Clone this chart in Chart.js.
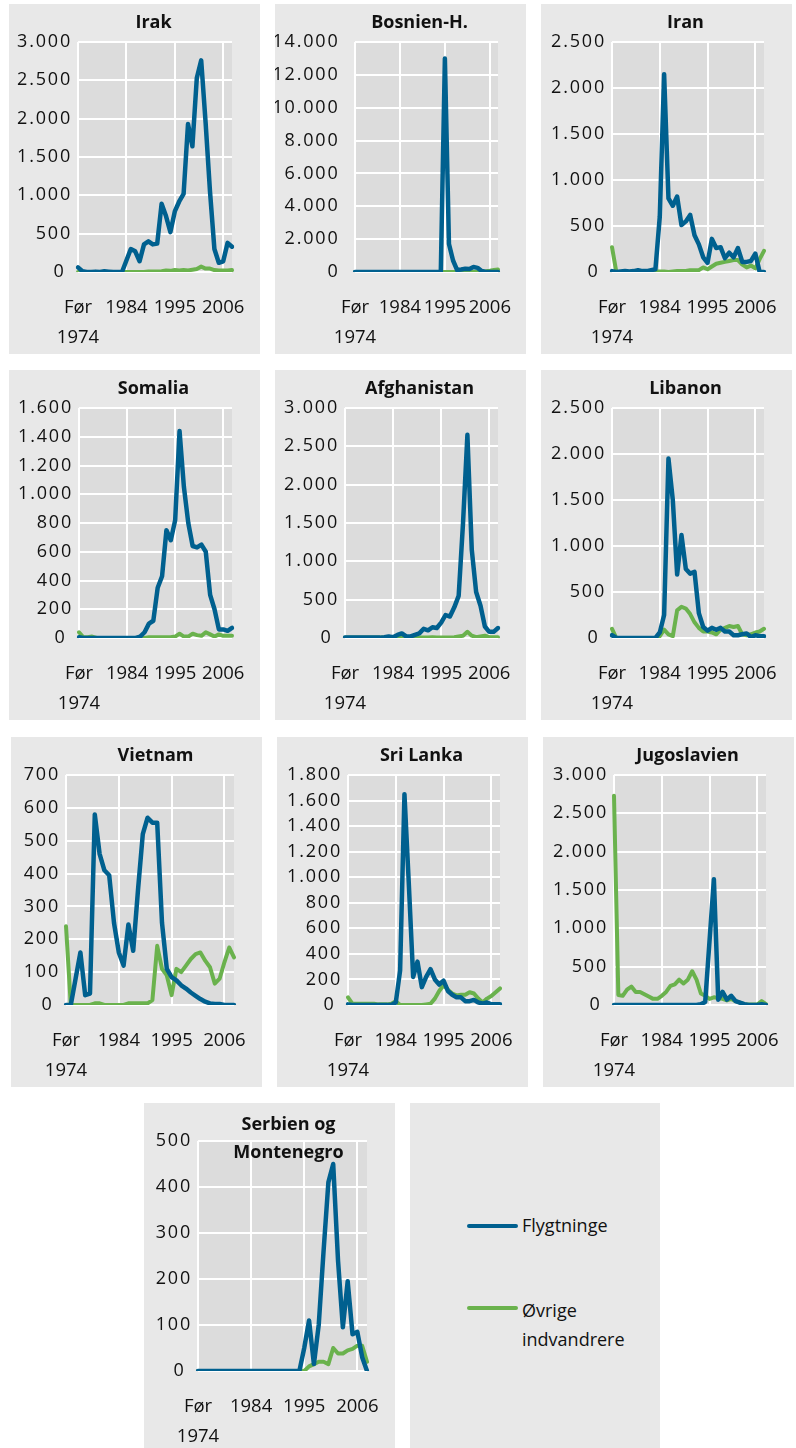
<!DOCTYPE html>
<html>
<head>
<meta charset="utf-8">
<script src="https://cdn.jsdelivr.net/npm/chart.js@4.4.1/dist/chart.umd.min.js"></script>
<style>
  body { margin: 0; background: #fff; width: 796px; height: 1448px; position: relative; overflow: hidden; }
  .panel { position: absolute; background: #e8e8e8; overflow: hidden; }
  .panel canvas { display: block; }
  .lgline { position: absolute; height: 4px; width: 51px; border-radius: 2px; }
  .lgtext { position: absolute; font-family: 'Open Sans'; font-size: 18px; line-height: 29px; color: #111; white-space: nowrap; }
</style>
</head>
<body>
<div class="panel" style="left:410px;top:1103px;width:250px;height:345px">
  <div class="lgline" style="left:57px;top:121px;background:#00608f"></div>
  <div class="lgtext" style="left:112px;top:108px">Flygtninge</div>
  <div class="lgline" style="left:57px;top:203px;background:#6ab24d"></div>
  <div class="lgtext" style="left:112px;top:193px">Øvrige<br>indvandrere</div>
</div>
<script>
// x categories: "Før 1974", then 1974-2008
var years = ['Før 1974','1974','1975','1976','1977','1978','1979','1980','1981','1982','1983','1984',
  '1985','1986','1987','1988','1989','1990','1991','1992','1993','1994','1995','1996','1997','1998',
  '1999','2000','2001','2002','2003','2004','2005','2006','2007','2008'];

var irakFly = [60,10,0,0,5,0,10,5,0,0,0,150,300,270,140,360,400,360,370,890,730,520,790,920,1020,1930,1640,2530,2760,1950,1050,300,120,140,380,330];
var irakOvr = [0,0,0,0,0,0,0,0,0,0,0,0,0,0,0,0,5,5,5,10,20,15,25,20,25,20,30,40,70,45,45,25,20,20,20,25];

var bosFly = [0,0,0,0,0,0,0,0,0,0,0,0,0,0,0,0,0,0,0,0,0,0,13000,1700,700,120,150,200,180,300,250,60,0,0,0,0];
var bosOvr = [0,0,0,0,0,0,0,0,0,0,0,0,0,0,0,0,0,0,0,0,0,0,0,0,0,0,0,0,0,0,0,30,50,80,120,150];

var iranFly = [10,0,5,10,5,10,20,10,10,20,30,600,2150,800,720,820,510,550,620,400,300,160,100,360,260,270,150,210,160,260,110,110,120,200,0,0];
var iranOvr = [270,0,0,0,0,0,0,0,0,0,5,5,5,0,5,10,10,10,20,20,20,50,30,60,90,100,110,120,130,130,80,50,70,40,140,230];

var somFly = [5,0,0,0,0,0,0,0,0,0,0,0,0,0,10,40,100,120,350,430,750,680,820,1440,1050,800,640,630,650,600,300,200,60,60,50,70];
var somOvr = [40,5,5,10,0,0,0,0,0,0,0,0,0,0,0,0,5,5,5,5,5,5,10,30,10,10,30,20,15,40,25,10,25,15,15,15];

var afgFly = [5,5,5,5,5,5,5,5,5,10,20,10,40,60,20,20,40,60,120,100,140,130,200,300,280,400,550,1500,2650,1150,600,420,150,80,80,130];
var afgOvr = [5,5,5,5,5,5,5,5,5,5,5,5,5,5,5,5,5,5,5,5,10,5,5,5,5,10,20,30,80,30,10,20,30,10,10,10];

var libFly = [30,0,0,0,0,0,0,0,0,0,0,60,250,1950,1500,690,1120,750,700,720,270,120,80,110,90,110,70,70,30,30,40,50,10,30,20,20];
var libOvr = [100,0,0,0,0,0,0,0,0,0,0,20,90,40,20,300,340,320,260,170,110,70,70,60,40,90,110,130,120,130,40,30,40,60,70,100];

var vieFly = [0,0,80,160,30,35,580,460,410,395,250,160,120,245,165,350,520,570,555,555,250,110,85,75,60,50,38,28,18,10,5,3,3,0,0,0];
var vieOvr = [240,0,0,0,0,0,5,5,0,0,0,0,0,5,5,5,5,5,15,180,110,90,30,110,100,120,140,155,160,135,115,65,80,130,175,145];

var sriFly = [5,0,0,0,0,0,0,0,0,0,0,20,270,1650,950,220,340,140,220,280,200,160,190,110,80,60,60,30,30,40,20,10,20,5,5,5];
var sriOvr = [60,10,10,10,10,10,10,5,5,5,10,30,0,0,0,0,0,0,5,10,50,110,155,120,90,75,80,80,100,90,50,20,50,70,100,130];

var jugFly = [0,0,0,0,0,0,0,0,0,0,0,0,0,0,0,0,0,0,0,0,10,40,840,1640,70,170,70,120,50,30,10,0,0,0,10,0];
var jugOvr = [2730,130,120,200,240,170,170,140,110,80,80,120,170,250,270,330,280,330,440,330,150,120,80,100,90,80,60,80,50,30,10,5,5,5,50,10];

var serFly = [0,0,0,0,0,0,0,0,0,0,0,0,0,0,0,0,0,0,0,0,0,0,50,110,15,100,260,410,450,240,95,195,80,85,30,0];
var serOvr = [0,0,0,0,0,0,0,0,0,0,0,0,0,0,0,0,0,0,0,0,0,0,0,10,15,20,20,15,50,38,38,45,48,55,55,20];

var BLUE = '#00608f', GREEN = '#6ab24d', INK = '#111111';
var PW = 251, PH = 350, PLOT_RIGHT = 223;

var panels = [
  {title:['Irak'], x:9, y:4, max:3000, step:500, left:69, fly:irakFly, ovr:irakOvr},
  {title:['Bosnien-H.'], x:275, y:4, max:14000, step:2000, left:80, fly:bosFly, ovr:bosOvr, wide:true},
  {title:['Iran'], x:541, y:4, max:2500, step:500, left:71, fly:iranFly, ovr:iranOvr},
  {title:['Somalia'], x:9, y:370, max:1600, step:200, left:70, fly:somFly, ovr:somOvr},
  {title:['Afghanistan'], x:275, y:370, max:3000, step:500, left:70, fly:afgFly, ovr:afgOvr},
  {title:['Libanon'], x:541, y:370, max:2500, step:500, left:71, fly:libFly, ovr:libOvr},
  {title:['Vietnam'], x:11, y:737, max:700, step:100, left:55, fly:vieFly, ovr:vieOvr},
  {title:['Sri Lanka'], x:277, y:737, max:1800, step:200, left:71, fly:sriFly, ovr:sriOvr},
  {title:['Jugoslavien'], x:543, y:737, max:3000, step:500, left:71, fly:jugFly, ovr:jugOvr},
  {title:['Serbien og','Montenegro'], x:144, y:1103, max:500, step:100, left:54, fly:serFly, ovr:serOvr, ty:22}
];

function fmt(v, wide) {
  if (v === 0) return wide ? '0' : '0\u00a0';
  return String(v).replace(/\B(?=(\d{3})+(?!\d))/g, '.');
}

var plotBg = {
  id: 'plotBg',
  beforeDraw: function(chart) {
    var a = chart.chartArea, c = chart.ctx;
    c.save();
    c.fillStyle = '#dcdcdc';
    c.fillRect(a.left, a.top, a.right - a.left, a.bottom - a.top);
    c.restore();
  }
};

// y tick labels are drawn after the datasets (ticks.z = 1), spaced a bit wider
var wideTicks = {
  id: 'wideTicks',
  afterDatasetsDraw: function(chart) { chart.ctx.letterSpacing = '1.8px'; },
  afterDraw: function(chart) { chart.ctx.letterSpacing = '0px'; }
};

var panelTitle = {
  id: 'panelTitle',
  afterDraw: function(chart, args, opts) {
    var c = chart.ctx;
    c.save();
    c.font = 'bold 18px "Open Sans"';
    c.fillStyle = INK;
    c.textAlign = 'center';
    c.textBaseline = 'middle';
    opts.lines.forEach(function(t, i) { c.fillText(t, opts.x, opts.y + i * 28); });
    c.restore();
  }
};

panels.forEach(function(p) {
  var div = document.createElement('div');
  div.className = 'panel';
  div.style.left = p.x + 'px';
  div.style.top = p.y + 'px';
  div.style.width = PW + 'px';
  div.style.height = (p.y + PH > 1448 ? 1448 - p.y : PH) + 'px';
  var cv = document.createElement('canvas');
  cv.width = PW; cv.height = PH;
  div.appendChild(cv);
  document.body.appendChild(div);

  new Chart(cv, {
    type: 'line',
    data: {
      labels: years,
      datasets: [
        {label: 'Flygtninge', data: p.fly, borderColor: BLUE, borderWidth: 4.5, pointRadius: 0, tension: 0,
         borderJoinStyle: 'round', borderCapStyle: 'round', fill: false},
        {label: 'Øvrige indvandrere', data: p.ovr, borderColor: GREEN, borderWidth: 4, pointRadius: 0, tension: 0,
         borderJoinStyle: 'round', borderCapStyle: 'round', fill: false}
      ]
    },
    options: {
      responsive: false,
      animation: false,
      events: [],
      layout: {padding: {left: 0, right: PW - PLOT_RIGHT, top: 38, bottom: 0}},
      plugins: {
        legend: {display: false},
        tooltip: {enabled: false},
        title: {display: false},
        panelTitle: {lines: p.title, x: 144.5, y: p.ty || 19}
      },
      scales: {
        x: {
          grid: {
            color: function(ctx) { return ctx.index % 11 === 0 ? '#ffffff' : 'rgba(0,0,0,0)'; },
            lineWidth: 2, drawTicks: false
          },
          border: {display: false},
          ticks: {
            autoSkip: false, maxRotation: 0, minRotation: 0, padding: 21, color: INK,
            font: {family: 'Open Sans', size: 18.5, lineHeight: '30px'},
            callback: function(v, i) {
              if (i === 0) return ['Før', '1974'];
              return i % 11 === 0 ? years[i] : '';
            }
          },
          afterFit: function(s) { s.height = 82; }
        },
        y: {
          min: 0, max: p.max,
          grid: {color: '#ffffff', lineWidth: 2, drawTicks: false},
          border: {display: false},
          ticks: {
            stepSize: p.step, z: 1, color: INK,
            padding: p.wide ? 15.5 : 6,
            font: {family: 'Open Sans', size: 18},
            callback: function(v) { return fmt(v, p.wide); }
          },
          afterFit: function(s) { s.width = p.left; }
        }
      }
    },
    plugins: [plotBg, wideTicks, panelTitle]
  });
});
</script>
</body>
</html>
